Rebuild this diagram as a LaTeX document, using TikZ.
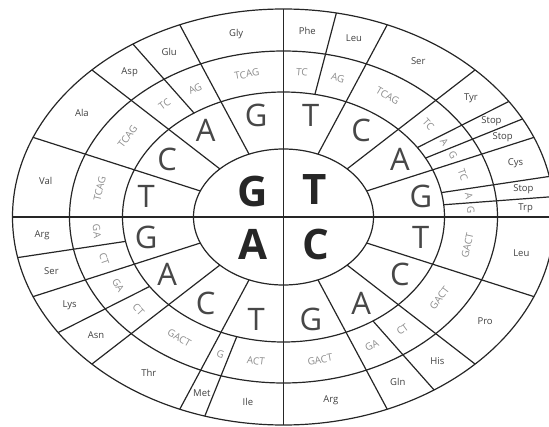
\documentclass[tikz,border=0pt]{standalone}
\usepackage{fontspec}
\setmainfont{Open Sans}
\usepackage{tikz}

\tikzset{
  wheel/.style={line width=1.2pt, draw=black!85},
  firstbase/.style={font=\fontsize{42}{42}\selectfont\bfseries, text=black!85},
  secondbase/.style={font=\fontsize{31}{31}\selectfont, text=black!72},
  thirdbase/.style={font=\fontsize{10}{10}\selectfont, text=black!45, inner sep=0pt},
  aminoacid/.style={font=\fontsize{9.5}{10}\selectfont, text=black!75, inner sep=0.5pt}
}

\begin{document}
\begin{tikzpicture}[x=1pt, y=1pt]
    \useasboundingbox (-283.5,-209) rectangle (265.5,217);

    \draw[wheel] (0,0) ellipse [x radius=90pt, y radius=68pt];
    \draw[wheel] (0,0) ellipse [x radius=161pt, y radius=125pt];
    \draw[wheel] (0,0) ellipse [x radius=214pt, y radius=166pt];
    \draw[wheel] (0,0) ellipse [x radius=271pt, y radius=208pt];

    \draw[wheel] (90:271 and 208) -- (270:271 and 208);
    \draw[wheel] (0:271 and 208) -- (180:271 and 208);

    \draw[wheel] (157.5:90 and 68) -- (157.5:271 and 208);
    \draw[wheel] (135:90 and 68) -- (135:271 and 208);
    \draw[wheel] (112.5:90 and 68) -- (112.5:271 and 208);
    \draw[wheel] (67.5:90 and 68) -- (67.5:271 and 208);
    \draw[wheel] (45:90 and 68) -- (45:271 and 208);
    \draw[wheel] (22.5:90 and 68) -- (22.5:271 and 208);
    \draw[wheel] (-22.5:90 and 68) -- (-22.5:271 and 208);
    \draw[wheel] (-45:90 and 68) -- (-45:271 and 208);
    \draw[wheel] (-67.5:90 and 68) -- (-67.5:271 and 208);
    \draw[wheel] (247.5:90 and 68) -- (247.5:271 and 208);
    \draw[wheel] (225:90 and 68) -- (225:271 and 208);
    \draw[wheel] (202.5:90 and 68) -- (202.5:271 and 208);

    \draw[wheel] (123.75:161 and 125) -- (123.75:271 and 208);
    \draw[wheel] (78.75:161 and 125) -- (78.75:271 and 208);
    \draw[wheel] (33.75:161 and 125) -- (33.75:271 and 208);
    \draw[wheel] (28.125:161 and 125) -- (28.125:271 and 208);
    \draw[wheel] (11.25:161 and 125) -- (11.25:271 and 208);
    \draw[wheel] (5.625:161 and 125) -- (5.625:271 and 208);
    \draw[wheel] (-56.25:161 and 125) -- (-56.25:271 and 208);
    \draw[wheel] (253.125:161 and 125) -- (253.125:271 and 208);
    \draw[wheel] (213.75:161 and 125) -- (213.75:271 and 208);
    \draw[wheel] (191.25:161 and 125) -- (191.25:271 and 208);

    \node[firstbase] (firstG) at (-31,26) {G};
    \node[firstbase] (firstT) at (31,27) {T};
    \node[firstbase] (firstA) at (-31,-27) {A};
    \node[firstbase] (firstC) at (32,-27) {C};

    \node[secondbase] (secGT) at (168.75:140 and 104) {T};
    \node[secondbase] (secGC) at (146.25:140 and 104) {C};
    \node[secondbase] (secGA) at (123.75:140 and 104) {A};
    \node[secondbase] (secGG) at (101.25:140 and 104) {G};
    \node[secondbase] (secTT) at (78.75:140 and 104) {T};
    \node[secondbase] (secTC) at (56.25:140 and 104) {C};
    \node[secondbase] (secTA) at (33.75:140 and 104) {A};
    \node[secondbase] (secTG) at (11.25:140 and 104) {G};
    \node[secondbase] (secCT) at (-11.25:140 and 104) {T};
    \node[secondbase] (secCC) at (-33.75:140 and 104) {C};
    \node[secondbase] (secCA) at (-56.25:140 and 104) {A};
    \node[secondbase] (secCG) at (-78.75:140 and 104) {G};
    \node[secondbase] (secAT) at (-101.25:140 and 104) {T};
    \node[secondbase] (secAC) at (-123.75:140 and 104) {C};
    \node[secondbase] (secAA) at (-146.25:140 and 104) {A};
    \node[secondbase] (secAG) at (-168.75:140 and 104) {G};

    \node[thirdbase, rotate=77] (thrGT) at (168.75:187.5 and 145.5) {TCAG};
    \node[thirdbase, rotate=53] (thrGC) at (146.25:187.5 and 145.5) {TCAG};
    \node[thirdbase, rotate=36] (thrGAtc) at (129.375:187.5 and 145.5) {TC};
    \node[thirdbase, rotate=25] (thrGAag) at (118.125:187.5 and 145.5) {AG};
    \node[thirdbase, rotate=10] (thrGG) at (101.25:187.5 and 145.5) {TCAG};
    \node[thirdbase, rotate=-5] (thrTTtc) at (84.375:187.5 and 145.5) {TC};
    \node[thirdbase, rotate=-15] (thrTTag) at (73.125:187.5 and 145.5) {AG};
    \node[thirdbase, rotate=-30] (thrTC) at (56.25:187.5 and 145.5) {TCAG};
    \node[thirdbase, rotate=-47] (thrTAtc) at (39.375:187.5 and 145.5) {TC};
    \node[thirdbase, rotate=-56] (thrTAa) at (30.9375:187.5 and 145.5) {A};
    \node[thirdbase, rotate=-62] (thrTAg) at (25.3125:187.5 and 145.5) {G};
    \node[thirdbase, rotate=-71] (thrTGtc) at (16.875:187.5 and 145.5) {TC};
    \node[thirdbase, rotate=-80] (thrTGa) at (8.4375:187.5 and 145.5) {A};
    \node[thirdbase, rotate=-87] (thrTGg) at (2.8125:187.5 and 145.5) {G};
    \node[thirdbase, rotate=77] (thrCT) at (-11.25:187.5 and 145.5) {GACT};
    \node[thirdbase, rotate=53] (thrCC) at (-33.75:187.5 and 145.5) {GACT};
    \node[thirdbase, rotate=36] (thrCAct) at (-50.625:187.5 and 145.5) {CT};
    \node[thirdbase, rotate=25] (thrCAga) at (-61.875:187.5 and 145.5) {GA};
    \node[thirdbase, rotate=10] (thrCG) at (-78.75:187.5 and 145.5) {GACT};
    \node[thirdbase, rotate=-7] (thrATact) at (-98.4375:187.5 and 145.5) {ACT};
    \node[thirdbase, rotate=-18] (thrATg) at (-109.6875:187.5 and 145.5) {G};
    \node[thirdbase, rotate=-30] (thrAC) at (-123.75:187.5 and 145.5) {GACT};
    \node[thirdbase, rotate=-47] (thrAAct) at (-140.625:187.5 and 145.5) {CT};
    \node[thirdbase, rotate=-59] (thrAAga) at (-151.875:187.5 and 145.5) {GA};
    \node[thirdbase, rotate=-71] (thrAGct) at (-163.125:187.5 and 145.5) {CT};
    \node[thirdbase, rotate=-84] (thrAGga) at (-174.375:187.5 and 145.5) {GA};

    \node[aminoacid] (val) at (168.75:242.5 and 187) {Val};
    \node[aminoacid] (ala) at (146.25:242.5 and 187) {Ala};
    \node[aminoacid] (asp) at (129.375:242.5 and 187) {Asp};
    \node[aminoacid] (glu) at (118.125:242.5 and 187) {Glu};
    \node[aminoacid] (gly) at (101.25:242.5 and 187) {Gly};
    \node[aminoacid] (phe) at (84.375:242.5 and 187) {Phe};
    \node[aminoacid] (leuT) at (73.125:242.5 and 187) {Leu};
    \node[aminoacid] (serT) at (56.25:242.5 and 187) {Ser};
    \node[aminoacid] (tyr) at (39.375:242.5 and 187) {Tyr};
    \node[aminoacid] (stopA) at (30.9375:242.5 and 187) {Stop};
    \node[aminoacid] (stopB) at (25.3125:242.5 and 187) {Stop};
    \node[aminoacid] (cys) at (16.875:242.5 and 187) {Cys};
    \node[aminoacid] (stopC) at (8.4375:242.5 and 187) {Stop};
    \node[aminoacid] (trp) at (2.8125:242.5 and 187) {Trp};
    \node[aminoacid] (leuC) at (-11.25:242.5 and 187) {Leu};
    \node[aminoacid] (pro) at (-33.75:242.5 and 187) {Pro};
    \node[aminoacid] (his) at (-50.625:242.5 and 187) {His};
    \node[aminoacid] (gln) at (-61.875:242.5 and 187) {Gln};
    \node[aminoacid] (argC) at (-78.75:242.5 and 187) {Arg};
    \node[aminoacid] (ile) at (-98.4375:242.5 and 187) {Ile};
    \node[aminoacid] (met) at (-109.6875:242.5 and 187) {Met};
    \node[aminoacid] (thr) at (-123.75:242.5 and 187) {Thr};
    \node[aminoacid] (asn) at (-140.625:242.5 and 187) {Asn};
    \node[aminoacid] (lys) at (-151.875:242.5 and 187) {Lys};
    \node[aminoacid] (serA) at (-163.125:242.5 and 187) {Ser};
    \node[aminoacid] (argA) at (-174.375:242.5 and 187) {Arg};
\end{tikzpicture}
\end{document}
